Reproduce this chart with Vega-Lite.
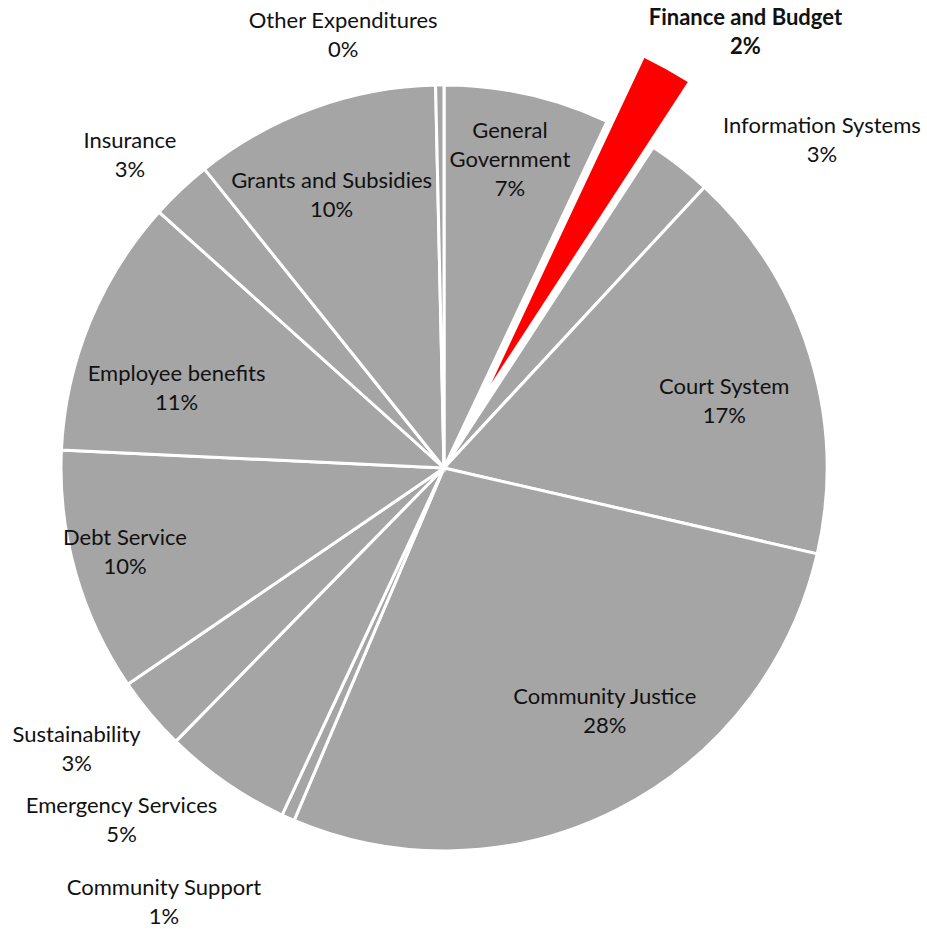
{
  "$schema": "https://vega.github.io/schema/vega-lite/v6.json",
  "width": 888,
  "height": 922,
  "autosize": {"type": "none"},
  "padding": {"left": 0, "top": 7, "right": 39, "bottom": 0},
  "background": "white",
  "config": {"view": {"stroke": null}, "text": {"font": "Lato", "fontSize": 22, "lineHeight": 29, "color": "#111111", "align": "center", "baseline": "middle"}},
  "data": {
    "values": [
      {"order": 1, "category": "General Government", "value": 7.0},
      {"order": 2, "category": "Finance and Budget", "value": 2.2},
      {"order": 3, "category": "Information Systems", "value": 2.7},
      {"order": 4, "category": "Court System", "value": 16.7},
      {"order": 5, "category": "Community Justice", "value": 27.8},
      {"order": 6, "category": "Community Support", "value": 0.55},
      {"order": 7, "category": "Emergency Services", "value": 5.4},
      {"order": 8, "category": "Sustainability", "value": 3.1},
      {"order": 9, "category": "Debt Service", "value": 10.3},
      {"order": 10, "category": "Employee benefits", "value": 10.9},
      {"order": 11, "category": "Insurance", "value": 2.6},
      {"order": 12, "category": "Grants and Subsidies", "value": 10.4},
      {"order": 13, "category": "Other Expenditures", "value": 0.35}
    ]
  },
  "transform": [
    {"calculate": "format(datum.value / 100, '.0%')", "as": "pct"},
    {"calculate": "datum.category === 'General Government' ? ['General', 'Government', datum.pct] : [datum.category, datum.pct]", "as": "lines"}
  ],
  "encoding": {
    "theta": {"field": "value", "type": "quantitative", "stack": true},
    "order": {"field": "order", "type": "quantitative"},
    "detail": {"field": "category", "type": "nominal"}
  },
  "layer": [
    {
      "mark": {"type": "arc", "outerRadius": 383, "fill": "#A5A5A5", "stroke": "white", "strokeWidth": 3},
      "encoding": {
        "opacity": {"condition": {"test": "datum.category === 'Finance and Budget'", "value": 0}, "value": 1}
      }
    },
    {
      "mark": {"type": "arc", "outerRadius": 458, "innerRadius": 75, "padAngle": 0.0225, "fill": "#FF0000", "stroke": "white", "strokeWidth": 3},
      "encoding": {
        "opacity": {"condition": {"test": "datum.category === 'Finance and Budget'", "value": 1}, "value": 0}
      }
    },
    {
      "mark": {"type": "text", "radius": 315, "thetaOffset": -0.009, "dy": -29},
      "encoding": {"text": {"condition": {"test": "datum.category === 'General Government'", "field": "lines", "type": "nominal"}, "value": ""}}
    },
    {
      "mark": {"type": "text", "radius": 295, "thetaOffset": -0.042, "dy": -14.5},
      "encoding": {"text": {"condition": {"test": "datum.category === 'Grants and Subsidies'", "field": "lines", "type": "nominal"}, "value": ""}}
    },
    {
      "mark": {"type": "text", "radius": 279, "thetaOffset": -0.101, "dy": -14.5},
      "encoding": {"text": {"condition": {"test": "datum.category === 'Employee benefits'", "field": "lines", "type": "nominal"}, "value": ""}}
    },
    {
      "mark": {"type": "text", "radius": 330, "thetaOffset": 0.018, "dy": -14.5},
      "encoding": {"text": {"condition": {"test": "datum.category === 'Debt Service'", "field": "lines", "type": "nominal"}, "value": ""}}
    },
    {
      "mark": {"type": "text", "radius": 292, "thetaOffset": -0.112, "dy": -14.5},
      "encoding": {"text": {"condition": {"test": "datum.category === 'Community Justice'", "field": "lines", "type": "nominal"}, "value": ""}}
    },
    {
      "mark": {"type": "text", "radius": 288, "thetaOffset": 0.066, "dy": -14.5},
      "encoding": {"text": {"condition": {"test": "datum.category === 'Court System'", "field": "lines", "type": "nominal"}, "value": ""}}
    },
    {
      "mark": {"type": "text", "radius": 444, "thetaOffset": -0.218, "dy": -14.5},
      "encoding": {"text": {"condition": {"test": "datum.category === 'Other Expenditures'", "field": "lines", "type": "nominal"}, "value": ""}}
    },
    {
      "mark": {"type": "text", "radius": 530, "thetaOffset": 0.096, "dy": -14.5, "fontWeight": "bold"},
      "encoding": {"text": {"condition": {"test": "datum.category === 'Finance and Budget'", "field": "lines", "type": "nominal"}, "value": ""}}
    },
    {
      "mark": {"type": "text", "radius": 500, "thetaOffset": 0.194, "dy": -14.5},
      "encoding": {"text": {"condition": {"test": "datum.category === 'Information Systems'", "field": "lines", "type": "nominal"}, "value": ""}}
    },
    {
      "mark": {"type": "text", "radius": 443, "thetaOffset": -0.031, "dy": -14.5},
      "encoding": {"text": {"condition": {"test": "datum.category === 'Insurance'", "field": "lines", "type": "nominal"}, "value": ""}}
    },
    {
      "mark": {"type": "text", "radius": 463, "thetaOffset": 0.043, "dy": -14.5},
      "encoding": {"text": {"condition": {"test": "datum.category === 'Sustainability'", "field": "lines", "type": "nominal"}, "value": ""}}
    },
    {
      "mark": {"type": "text", "radius": 478, "thetaOffset": 0.134, "dy": -14.5},
      "encoding": {"text": {"condition": {"test": "datum.category === 'Emergency Services'", "field": "lines", "type": "nominal"}, "value": ""}}
    },
    {
      "mark": {"type": "text", "radius": 517, "thetaOffset": 0.153, "dy": -14.5},
      "encoding": {"text": {"condition": {"test": "datum.category === 'Community Support'", "field": "lines", "type": "nominal"}, "value": ""}}
    }
  ]
}
